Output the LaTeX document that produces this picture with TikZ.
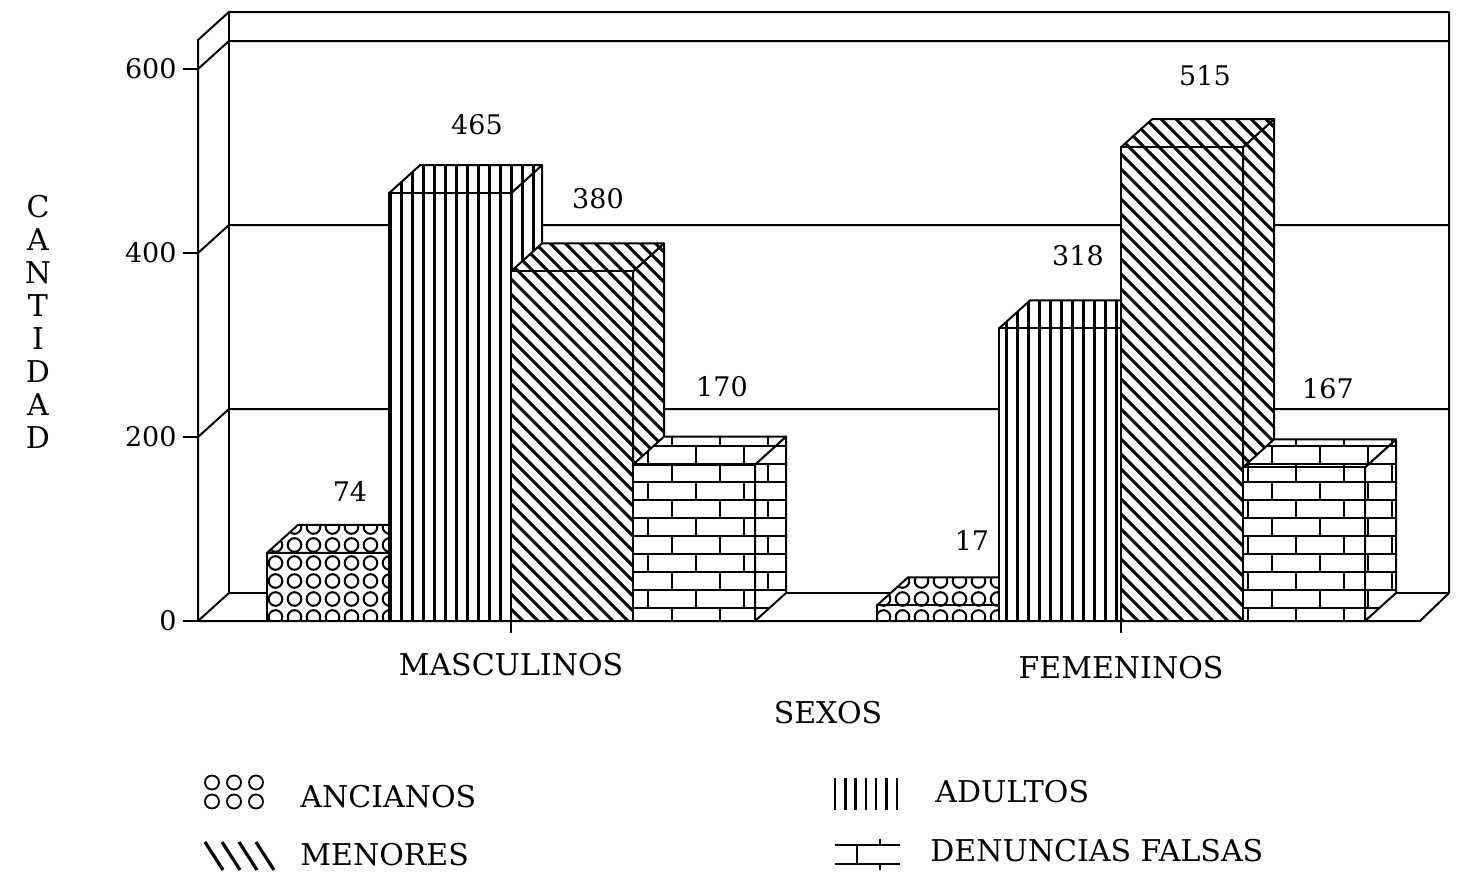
\documentclass[tikz,border=0pt]{standalone}
\usepackage{fontspec}
\setmainfont{DejaVu Serif}
\usetikzlibrary{patterns, positioning}

% fill patterns of the four series
\pgfdeclarepatternformonly{ancianos}{\pgfqpoint{-1pt}{-1pt}}{\pgfqpoint{10.5pt}{10pt}}{\pgfqpoint{9.5pt}{9pt}}{%
  \pgfsetlinewidth{1pt}\pgfpathcircle{\pgfqpoint{4.75pt}{4.5pt}}{3.4pt}\pgfusepath{stroke}}
\pgfdeclarepatternformonly{adultos}{\pgfqpoint{-1pt}{-1pt}}{\pgfqpoint{6.5pt}{6pt}}{\pgfqpoint{5.5pt}{5pt}}{%
  \pgfsetlinewidth{1.1pt}\pgfpathmoveto{\pgfqpoint{2.75pt}{-1pt}}\pgfpathlineto{\pgfqpoint{2.75pt}{6pt}}\pgfusepath{stroke}}
\pgfdeclarepatternformonly{menores}{\pgfqpoint{-1pt}{-1pt}}{\pgfqpoint{8.5pt}{8.5pt}}{\pgfqpoint{7.5pt}{7.5pt}}{%
  \pgfsetlinewidth{1.5pt}\pgfpathmoveto{\pgfqpoint{-0.2pt}{7.7pt}}\pgfpathlineto{\pgfqpoint{7.7pt}{-0.2pt}}\pgfusepath{stroke}}
\pgfdeclarepatternformonly{denuncias}{\pgfqpoint{-1pt}{-1pt}}{\pgfqpoint{25pt}{19pt}}{\pgfqpoint{24pt}{18pt}}{%
  \pgfsetlinewidth{1.3pt}
  \pgfpathmoveto{\pgfqpoint{0pt}{0pt}}\pgfpathlineto{\pgfqpoint{24pt}{0pt}}
  \pgfpathmoveto{\pgfqpoint{0pt}{9pt}}\pgfpathlineto{\pgfqpoint{24pt}{9pt}}
  \pgfpathmoveto{\pgfqpoint{0pt}{0pt}}\pgfpathlineto{\pgfqpoint{0pt}{9pt}}
  \pgfpathmoveto{\pgfqpoint{12pt}{9pt}}\pgfpathlineto{\pgfqpoint{12pt}{18pt}}
  \pgfusepath{stroke}}

% one 3d bar: left x, width, value, pattern
\newcommand{\chartbar}[4]{%
  \pgfmathsetmacro{\xr}{#1+#2}
  \pgfmathsetmacro{\yt}{621-#3*0.92}
  \path[face, pattern=#4] (\xr,621) -- (\xr,\yt) -- ++(31,-28) -- (\xr+31,593) -- cycle;
  \path[face, pattern=#4] (#1,\yt) -- ++(31,-28) -- (\xr+31,\yt-28) -- (\xr,\yt) -- cycle;
  \path[face, pattern=#4] (#1,621) rectangle (\xr,\yt);
}

\begin{document}
\begin{tikzpicture}[x=0.5pt, y=-0.5pt, line join=round]
	\tikzset{face/.style={draw, line width=1pt, preaction={fill=white}},
		wall/.style={line width=1pt},
		key/.style={line width=1.2pt},
		lbl/.style={font=\fontsize{15}{18}\selectfont, inner sep=0pt},
		num/.style={font=\fontsize{13.5}{16}\selectfont, inner sep=0pt}}
	\useasboundingbox (0,0) rectangle (1464,878);
	% walls and floor
	\draw[wall] (198,621) -- (198,40) -- (229,12) -- (1449,12) -- (1449,593) -- (1420,621) -- cycle;
	\draw[wall] (229,12) -- (229,593) -- (1449,593);
	\draw[wall] (198,621) -- (229,593);
	\foreach \v in {200,400,600} {
		\draw[wall] (198,621-\v*0.92) -- ++(31,-28) -- (1449,593-\v*0.92);
	}
	% value axis
	\foreach \v in {0,200,400,600} {
		\draw[wall] (183,621-\v*0.92) -- (198,621-\v*0.92);
		\node[num, anchor=east] (tick\v) at (177,621-\v*0.92) {\v};
	}
	\draw[wall] (511,621) -- (511,633);
	\draw[wall] (1121,621) -- (1121,633);
	% bars
	\chartbar{267}{122}{74}{ancianos}
	\chartbar{389}{122}{465}{adultos}
	\chartbar{511}{122}{380}{menores}
	\chartbar{633}{122}{170}{denuncias}
	\chartbar{877}{122}{17}{ancianos}
	\chartbar{999}{122}{318}{adultos}
	\chartbar{1121}{122}{515}{menores}
	\chartbar{1243}{122}{167}{denuncias}
	% values
	\node[num] (vMa) at (350,491) {74};
	\node[num] (vMb) at (477,125) {465};
	\node[num] (vMc) at (598,199) {380};
	\node[num] (vMd) at (722,387) {170};
	\node[num] (vFa) at (972,540) {17};
	\node[num] (vFb) at (1078,256) {318};
	\node[num] (vFc) at (1205,76) {515};
	\node[num] (vFd) at (1328,389) {167};
	% axis titles
	\node[lbl] (masc) at (511,665) {MASCULINOS};
	\node[lbl] (fem) at (1121,668) {FEMENINOS};
	\node[lbl] (sexos) at (828,713) {SEXOS};
	\node[lbl, align=center, font=\fontsize{15}{16.5}\selectfont] (cant) at (38,322) {C\\A\\N\\T\\I\\D\\A\\D};
	% legend
	\coordinate (swA) at (234,792);
	\foreach \i in {-1,0,1}
		\foreach \j in {-1,1}
			\draw[line width=0.9pt] (swA) ++(\i*22,\j*9.5) circle (7);
	\node[lbl, anchor=west] (lgA) at (300,797) {ANCIANOS};
	\coordinate (swM) at (205,842);
	\foreach \i in {0,1,2,3}
		\draw[key, line width=1.6pt] (swM) ++(\i*17,0) -- ++(18,28);
	\node[lbl, anchor=west] (lgM) at (300,855) {MENORES};
	\coordinate (swD) at (835,778);
	\foreach \i in {0,...,6}
		\draw[key] (swD) ++(\i*10.3,0) -- ++(0,32);
	\node[lbl, anchor=west] (lgD) at (935,792) {ADULTOS};
	\coordinate (swF) at (835,845);
	\draw[key] (swF) -- ++(65,0) (swF) ++(0,19) -- ++(65,0);
	\draw[key] (swF) ++(22,0) -- ++(0,19);
	\draw[key] (swF) ++(45,-6) -- ++(0,6) (swF) ++(45,19) -- ++(0,6);
	\node[lbl, anchor=west] (lgF) at (930,851) {DENUNCIAS FALSAS};
\end{tikzpicture}
\end{document}
